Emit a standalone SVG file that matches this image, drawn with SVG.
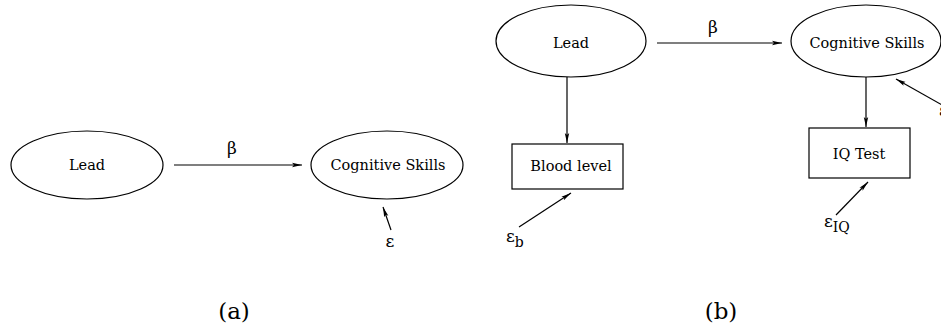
<svg xmlns="http://www.w3.org/2000/svg" width="941" height="332" viewBox="0 0 941 332">
<style>
.n{fill:none;stroke:#000;stroke-width:1.2}
.c{fill:none;stroke:#000;stroke-width:1.2;marker-end:url(#ah)}
text{font-family:"DejaVu Serif","Liberation Serif",serif;fill:#000}
.t{font-size:14.5px;text-anchor:middle}
.g{font-size:17px}
.cap{font-size:23px;text-anchor:middle}
</style>
<defs>
<marker id="ah" viewBox="0 0 10 6" refX="10" refY="3" markerWidth="10" markerHeight="6" markerUnits="userSpaceOnUse" orient="auto">
<path d="M0,0.8 L10,3 L0,5.2 L2,3 Z" fill="#000"/>
</marker>
</defs>
<rect width="941" height="332" fill="#fff"/>
<g id="a-lead"><ellipse class="n" cx="87" cy="165" rx="76" ry="34"/><text class="t" x="87" y="170">Lead</text></g>
<g id="a-cog"><ellipse class="n" cx="387" cy="165" rx="76" ry="34"/><text class="t" x="388" y="170">Cognitive Skills</text></g>
<g id="b-lead"><ellipse class="n" cx="571" cy="41" rx="75" ry="36"/><text class="t" x="571" y="48">Lead</text></g>
<g id="b-cog"><ellipse class="n" cx="866" cy="41" rx="75" ry="36"/><text class="t" x="867" y="48">Cognitive Skills</text></g>
<g id="b-blood"><rect class="n" x="512" y="144" width="111" height="45"/><text class="t" x="571" y="171">Blood level</text></g>
<g id="b-iq"><rect class="n" x="809" y="128" width="101" height="50"/><text class="t" x="859" y="159">IQ Test</text></g>
<g id="connectors">
<line class="c" x1="174" y1="165" x2="302" y2="165"/>
<line class="c" x1="391" y1="230" x2="383" y2="207"/>
<line class="c" x1="657" y1="43" x2="782" y2="43"/>
<line class="c" x1="567" y1="77" x2="567" y2="143"/>
<line class="c" x1="866" y1="77" x2="866" y2="127"/>
<line class="c" x1="519" y1="227" x2="571" y2="193"/>
<line class="c" x1="836" y1="215" x2="868" y2="182"/>
<line class="c" x1="942" y1="105" x2="896" y2="79"/>
</g>
<g id="labels">
<text class="g" x="232" y="154" text-anchor="middle">β</text>
<text class="g" x="713" y="33" text-anchor="middle">β</text>
<text class="g" x="390" y="247" text-anchor="middle">ε</text>
<text class="g" x="506" y="242">ε<tspan font-size="14" dy="5">b</tspan></text>
<text class="g" x="824" y="227">ε<tspan font-size="14" dy="5">IQ</tspan></text>
<text class="g" x="939" y="116">ε</text>
<text class="cap" x="234" y="319">(a)</text>
<text class="cap" x="721" y="319">(b)</text>
</g>
</svg>
